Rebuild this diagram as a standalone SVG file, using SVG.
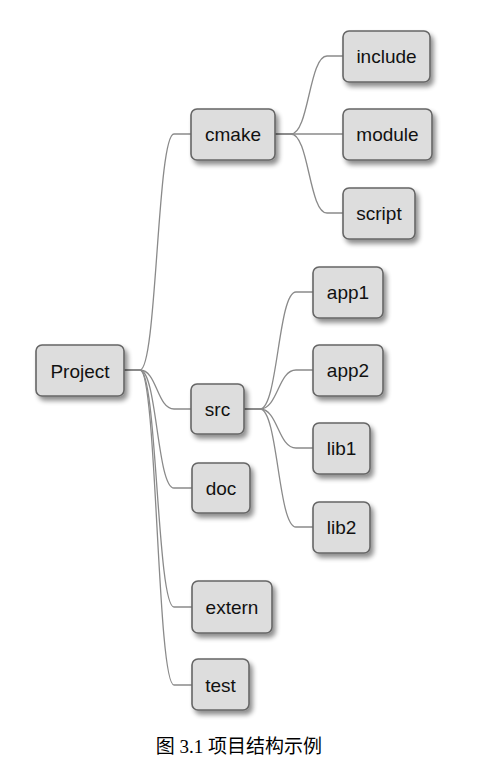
<svg xmlns="http://www.w3.org/2000/svg" width="498" height="781" viewBox="0 0 498 781">
<defs>
<filter id="sh" x="-20%" y="-20%" width="150%" height="150%">
<feGaussianBlur in="SourceAlpha" stdDeviation="2.5"/>
<feOffset dx="3" dy="4" result="b"/>
<feComponentTransfer><feFuncA type="linear" slope="0.45"/></feComponentTransfer>
<feMerge><feMergeNode/><feMergeNode in="SourceGraphic"/></feMerge>
</filter>
</defs>
<style>
.n rect{fill:#dddddd;stroke:#666666;stroke-width:1.6;filter:url(#sh)}
.n text{font-family:"Liberation Sans",Arial,sans-serif;font-size:19px;fill:#111;text-anchor:middle}
.c path{fill:none;stroke:#8a8a8a;stroke-width:1.3}
.cap{font-family:"Liberation Serif","Noto Sans CJK SC",serif;font-size:19px;fill:#000;text-anchor:middle}
</style>
<rect width="498" height="781" fill="#ffffff"/>
<g class="c" id="connectors">
<path d="M124,370 H140 C157,370 157,134 174,134 H191"/>
<path d="M124,370 H140 C157,370 157,409 174,409 H191"/>
<path d="M124,370 H140 C157,370 157,488 174,488 H192"/>
<path d="M124,370 H140 C157,370 157,607 174,607 H192"/>
<path d="M124,370 H140 C157,370 157,685 174,685 H192"/>
<path d="M275,134 H291 C309,134 309,56 327,56 H343"/>
<path d="M275,134 H343"/>
<path d="M275,134 H291 C309,134 309,213 327,213 H343"/>
<path d="M244,409 H260 C278,409 278,292 296,292 H313"/>
<path d="M244,409 H260 C278,409 278,370 296,370 H313"/>
<path d="M244,409 H260 C278,409 278,448 296,448 H313"/>
<path d="M244,409 H260 C278,409 278,527 296,527 H313"/>
</g>
<g class="n" id="project"><rect x="36" y="345" width="88" height="51" rx="6"/><text x="80" y="378">Project</text></g>
<g class="n" id="cmake"><rect x="191" y="109" width="84" height="51" rx="6"/><text x="233" y="141">cmake</text></g>
<g class="n" id="include"><rect x="343" y="31" width="87" height="51" rx="6"/><text x="386.5" y="63">include</text></g>
<g class="n" id="module"><rect x="343" y="109" width="89" height="51" rx="6"/><text x="387.5" y="141">module</text></g>
<g class="n" id="script"><rect x="343" y="188" width="72" height="51" rx="6"/><text x="379" y="220">script</text></g>
<g class="n" id="app1"><rect x="313" y="267" width="70" height="51" rx="6"/><text x="348" y="299">app1</text></g>
<g class="n" id="app2"><rect x="313" y="345" width="70" height="51" rx="6"/><text x="348" y="377">app2</text></g>
<g class="n" id="src"><rect x="191" y="384" width="53" height="50" rx="6"/><text x="217.5" y="416">src</text></g>
<g class="n" id="lib1"><rect x="313" y="423" width="57" height="51" rx="6"/><text x="341.5" y="455">lib1</text></g>
<g class="n" id="doc"><rect x="192" y="463" width="58" height="50" rx="6"/><text x="221" y="495">doc</text></g>
<g class="n" id="lib2"><rect x="313" y="502" width="57" height="51" rx="6"/><text x="341.5" y="534">lib2</text></g>
<g class="n" id="extern"><rect x="192" y="581" width="80" height="52" rx="6"/><text x="232" y="614">extern</text></g>
<g class="n" id="test"><rect x="192" y="659" width="57" height="51" rx="6"/><text x="220.5" y="692">test</text></g>
<text class="cap" x="239" y="753">图 3.1 项目结构示例</text>
</svg>
